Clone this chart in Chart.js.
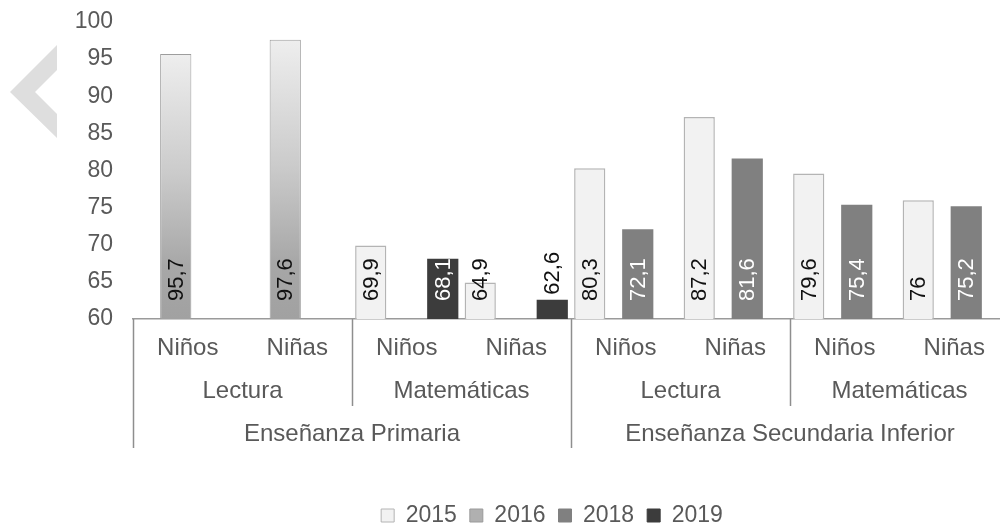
<!DOCTYPE html>
<html><head><meta charset="utf-8">
<script src="https://cdn.jsdelivr.net/npm/chart.js@4.4.1/dist/chart.umd.min.js"></script>
<style>
html,body{margin:0;padding:0;overflow:hidden;background:#fff;width:1000px;height:525px}
#wrap{position:absolute;left:0;top:0;width:1104px;height:537px}
#deco{position:absolute;left:0;top:0}
#err{position:absolute;left:200px;top:0;font:12px sans-serif;color:red}
</style></head><body>
<div id="wrap"><canvas id="c" width="1104" height="537"></canvas></div>
<svg id="deco" width="70" height="160"><polygon points="57,45 10,92 57,138 57,114 35,92 57,70" fill="#dedede"/></svg>
<div id="err"></div>
<script>
// ---- data ----
const categories = ['Niños','Niñas','Niños','Niñas','Niños','Niñas','Niños','Niñas'];
const subjects = ['Lectura','Matemáticas','Lectura','Matemáticas'];
const levels = ['Enseñanza Primaria','Enseñanza Secundaria Inferior'];
const years = ['2015','2016','2018','2019'];
const v2015 = [null,null,69.9,64.9,80.3,87.2,79.6,76];
const v2016 = [95.7,97.6,null,null,null,null,null,null];
const v2018 = [null,null,null,null,72.1,81.6,75.4,75.2];
const v2019 = [null,null,68.1,62.6,null,null,null,null];
const yMin = 60, yMax = 100, yStep = 5;

// ---- styles ----
const FONT = '"Liberation Sans", Arial, sans-serif';
const TXT = '#595959';
const labelColors = ['#111111','#111111','#ffffff','#ffffff'];
const legendFill = ['#f2f2f2','#b0b0b0','#808080','#3c3c3c'];
const legendStroke = ['#b4b4b4','#9a9a9a','#808080','#3c3c3c'];

Chart.defaults.font.family = FONT;

function grad2016(ctx){
  const chart = ctx.chart;
  const area = chart.chartArea;
  if (!area || ctx.type !== 'data' || ctx.raw == null) return '#b0b0b0';
  const top = chart.scales.y.getPixelForValue(ctx.raw);
  const g = chart.ctx.createLinearGradient(0, top, 0, area.bottom);
  g.addColorStop(0, '#eeeeee');
  g.addColorStop(0.45, '#cbcbcb');
  g.addColorStop(0.8, '#a7a7a7');
  g.addColorStop(1, '#a1a1a1');
  return g;
}

function drawValueLabels(chart){
  const ctx = chart.ctx;
  const ys = chart.scales.y;
  const baseY = ys.getPixelForValue(yMin);
  ctx.save();
  ctx.font = '22px ' + FONT;
  ctx.textBaseline = 'middle';
  ctx.textAlign = 'left';
  chart.data.datasets.forEach((ds, di) => {
    const meta = chart.getDatasetMeta(di);
    ds.data.forEach((v, i) => {
      if (v == null) return;
      const bar = meta.data[i];
      const bx = bar.x;
      const top = ys.getPixelForValue(v);
      const h = baseY - top;
      let y0, color;
      if (h < 25) { y0 = top - 5; color = '#111111'; }
      else { y0 = baseY - 18; color = labelColors[di]; }
      ctx.save();
      ctx.translate(bx, y0);
      ctx.rotate(-Math.PI / 2);
      ctx.fillStyle = color;
      ctx.fillText(String(v).replace('.', ','), 0, 1);
      ctx.restore();
    });
  });
  ctx.restore();
}

const groupAxis = {
  id: 'groupAxis',
  afterDraw(chart){
    try {
      const x = chart.scales.x;
      const ctx = chart.ctx;
      const top = chart.chartArea.bottom;
      const half = (x.getPixelForValue(1) - x.getPixelForValue(0)) / 2;
      const edge = i => x.getPixelForValue(i) - half;
      ctx.save();
      ctx.strokeStyle = '#8e8e8e';
      ctx.lineWidth = 1.5;
      const n = categories.length;
      for (let i = 0; i <= n; i += 2) {
        const full = (i % 4 === 0);
        const xx = Math.round(edge(i)) + 0.5;
        ctx.beginPath();
        ctx.moveTo(xx, top);
        ctx.lineTo(xx, top + (full ? 129 : 87));
        ctx.stroke();
      }
      ctx.fillStyle = TXT;
      ctx.font = '24px ' + FONT;
      ctx.textAlign = 'center';
      ctx.textBaseline = 'middle';
      subjects.forEach((s, j) => {
        const cx = (edge(2 * j) + edge(2 * j + 2)) / 2;
        ctx.fillText(s, cx, top + 72);
      });
      levels.forEach((s, j) => {
        const cx = (edge(4 * j) + edge(4 * j + 4)) / 2;
        ctx.fillText(s, cx, top + 115);
      });
      ctx.restore();
      drawValueLabels(chart);
    } catch (e) {
      document.getElementById('err').textContent = String(e);
    }
  }
};

new Chart(document.getElementById('c'), {
  type: 'bar',
  data: {
    labels: categories,
    datasets: [
      { label: years[0], data: v2015, backgroundColor: '#f2f2f2', borderColor: '#b4b4b4', borderWidth: 1.5 },
      { label: years[1], data: v2016, backgroundColor: grad2016, borderColor: '#9d9d9d', borderWidth: 1 },
      { label: years[2], data: v2018, backgroundColor: '#808080', borderColor: '#7a7a7a', borderWidth: 0 },
      { label: years[3], data: v2019, backgroundColor: '#3c3c3c', borderColor: '#3c3c3c', borderWidth: 0 }
    ]
  },
  options: {
    responsive: false,
    devicePixelRatio: 1,
    animation: false,
    categoryPercentage: 0.877,
    barPercentage: 1.3,
    layout: { padding: { top: 22, left: 0, right: 0, bottom: 0 } },
    plugins: {
      tooltip: { enabled: false },
      legend: {
        position: 'bottom',
        labels: {
          boxWidth: 13, boxHeight: 13, padding: 13, color: TXT,
          font: { size: 23, family: FONT },
          generateLabels: () => years.map((y, i) => ({
            text: y, fillStyle: legendFill[i], strokeStyle: legendStroke[i],
            lineWidth: 1, hidden: false, datasetIndex: i, fontColor: TXT
          }))
        }
      }
    },
    scales: {
      x: {
        grid: { display: false, drawTicks: false },
        border: { display: true, color: '#9a9a9a', width: 1.5 },
        ticks: { color: TXT, font: { size: 24, family: FONT }, padding: 15, maxRotation: 0, autoSkip: false },
        afterFit: s => { s.height = 172; }
      },
      y: {
        min: yMin, max: yMax,
        grid: { display: false, drawTicks: false },
        border: { display: false },
        ticks: { stepSize: yStep, color: TXT, font: { size: 23, family: FONT }, padding: 20 },
        afterFit: s => { s.width = 133; s.paddingTop = 0; s.paddingBottom = 0; }
      },
      y2: {
        type: 'linear', position: 'right', display: true,
        grid: { display: false, drawTicks: false },
        border: { display: false },
        ticks: { display: false },
        afterFit: s => { s.width = 95; s.paddingTop = 0; s.paddingBottom = 0; }
      }
    }
  },
  plugins: [groupAxis]
});
</script>
</body></html>
